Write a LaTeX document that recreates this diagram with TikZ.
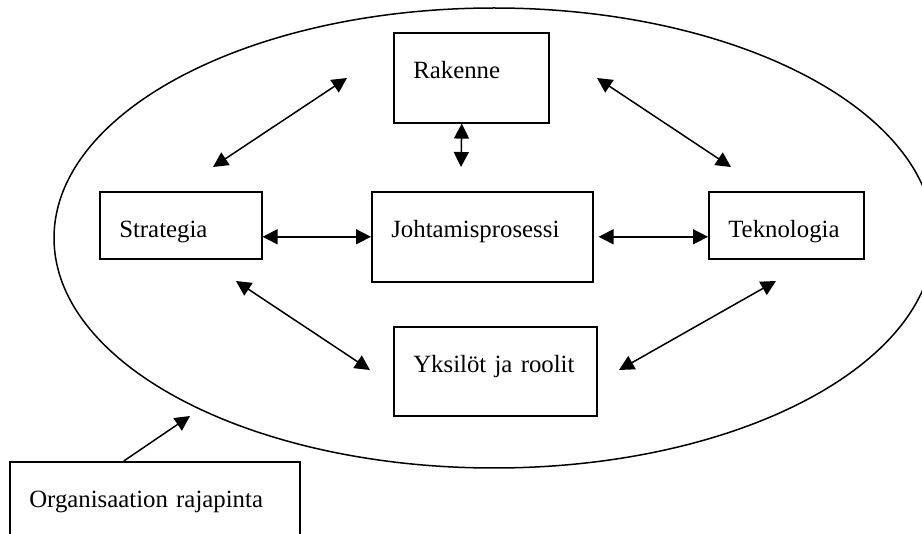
\documentclass[tikz,border=0pt]{standalone}
\usepackage{fontspec}
\setmainfont{Liberation Serif}
\usetikzlibrary{arrows.meta}

\begin{document}
\begin{tikzpicture}[x=0.5pt, y=-0.5pt,
    every node/.style={draw, rectangle, anchor=north west, align=left, inner ysep=0pt, inner xsep=9.75pt,
        text height=23pt, line width=0.8pt, font=\fontsize{12.4}{15}\selectfont},
    conn/.style={{Triangle[length=7.5pt, width=7.5pt]}-{Triangle[length=7.5pt, width=7.5pt]}, line width=0.75pt}]

    \clip (0,0) rectangle (922,534);

    % Boundary of the organisation
    \draw[line width=0.75pt] (494,238) ellipse [x radius=440, y radius=230];

    % Top row
    \node[text width=58pt, text depth=22pt] (rakenne) at (393,32) {Rakenne};

    % Middle row
    \node[text width=61.5pt, text depth=10.5pt] (strategia) at (99,191) {Strategia};
    \node[text width=91pt, text depth=22pt] (johtamis) at (371,191) {Johtamisprosessi};
    \node[text width=58pt, text depth=10.5pt] (teknologia) at (708,191) {Teknologia};

    % Bottom row
    \node[text width=82pt, text depth=21.5pt] (yksilot) at (393,326) {Yksilöt ja roolit};

    % Outside, cut by the lower edge
    \node[text width=125.5pt, text depth=30pt] (rajapinta) at (9,461) {Organisaation rajapinta};

    % Free ends of the diagonal arrows
    \coordinate (sr1) at (213,167);
    \coordinate (sr2) at (347,78);
    \coordinate (rt1) at (597,78);
    \coordinate (rt2) at (731,167);
    \coordinate (rj) at (461,167);
    \coordinate (sy1) at (236,281);
    \coordinate (sy2) at (370,370);
    \coordinate (ty1) at (776,281);
    \coordinate (ty2) at (619,370);
    \coordinate (raja) at (190,416);

    % Edges
    \draw[conn] (sr1) -- (sr2);
    \draw[conn] (rt1) -- (rt2);
    \draw[conn] ([xshift=-4.75pt]rakenne.south) -- (rj);
    \draw[conn] (strategia.east |- johtamis.west) -- (johtamis.west);
    \draw[conn] ([xshift=2.5pt]johtamis.east) -- (johtamis.east -| teknologia.west);
    \draw[conn] (sy1) -- (sy2);
    \draw[conn] (ty1) -- (ty2);
    \draw[-{Triangle[length=7.5pt, width=7.5pt]}, line width=0.75pt] ([xshift=-15.5pt]rajapinta.north) -- (raja);

\end{tikzpicture}
\end{document}
